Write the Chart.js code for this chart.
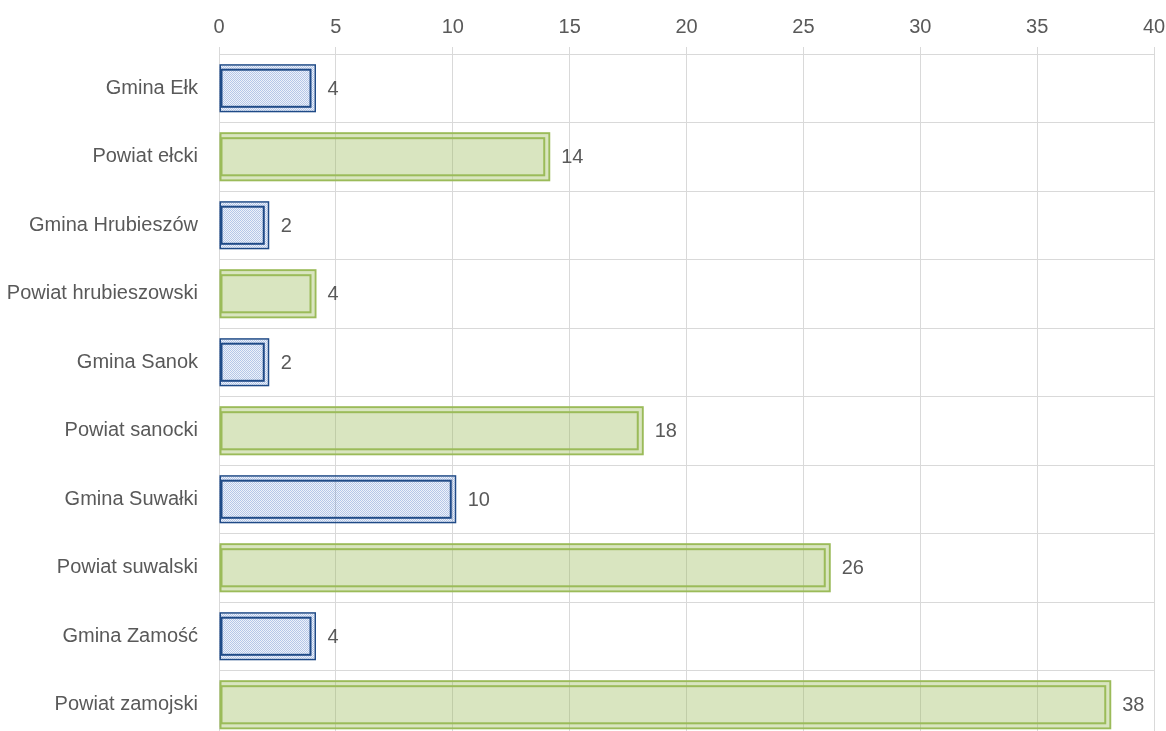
<!DOCTYPE html>
<html lang="pl">
<head>
<meta charset="utf-8">
<title>Gminy i powiaty</title>
<script src="https://cdn.jsdelivr.net/npm/chart.js@4/dist/chart.umd.min.js"></script>
<style>
    html, body { margin: 0; padding: 0; background: #fff; overflow: hidden; }
    canvas { display: block; }
</style>
</head>
<body>
<canvas id="chart" width="1166" height="739"></canvas>
<script>
'use strict';

// --- data ---
const categories = [
    'Gmina Ełk', 'Powiat ełcki',
    'Gmina Hrubieszów', 'Powiat hrubieszowski',
    'Gmina Sanok', 'Powiat sanocki',
    'Gmina Suwałki', 'Powiat suwalski',
    'Gmina Zamość', 'Powiat zamojski',
];
const values    = [4, 14, 2, 4, 2, 18, 10, 26, 4, 38];
const unitKind  = ['gmina', 'powiat', 'gmina', 'powiat', 'gmina', 'powiat', 'gmina', 'powiat', 'gmina', 'powiat'];
const xTickMin  = 0;
const xTickMax  = 40;
const xTickStep = 5;

const FONT = '"Liberation Sans", Arial, sans-serif';
const FSIZE = 20;
const GRID = '#d9d9d9';
const TEXT = '#595959';

function dotPattern() {
    const p = document.createElement('canvas');
    p.width = 2; p.height = 2;
    const c = p.getContext('2d');
    c.fillStyle = 'rgba(90,130,205,0.45)';
    c.fillRect(0, 0, 1, 1);
    c.fillRect(1, 1, 1, 1);
    c.fillStyle = 'rgba(90,130,205,0.10)';
    c.fillRect(1, 0, 1, 1);
    c.fillRect(0, 1, 1, 1);
    return document.getElementById('chart').getContext('2d').createPattern(p, 'repeat');
}

const styles = {
    gmina:  { fill: dotPattern(), line: '#1f4a87', outer: 1.5, inner: 2 },
    powiat: { fill: 'rgba(155,187,89,0.38)', line: '#9bbb59', outer: 2, inner: 2 },
};

// Excel-like "double" compound outline + value labels
const doubleBorder = {
    id: 'doubleBorder',
    afterDatasetsDraw(chart) {
        const ctx  = chart.ctx;
        const meta = chart.getDatasetMeta(0);
        meta.data.forEach((bar, i) => {
            const { x, y, base, height } = bar.getProps(['x', 'y', 'base', 'height'], true);
            const st  = styles[unitKind[i]];
            const top = y - height / 2;

            ctx.save();
            ctx.fillStyle = st.fill;
            ctx.fillRect(base, top - 2, x + 2 - base, height + 4);

            ctx.strokeStyle = st.line;
            ctx.lineWidth = st.outer;
            const o = 2 + st.outer / 2;
            ctx.strokeRect(base + st.outer / 2, top - o, x + o - base - st.outer / 2, height + 2 * o);

            ctx.lineWidth = st.inner;
            ctx.strokeRect(base + 2, top + 2, x - 4 - base, height - 4);

            ctx.fillStyle = TEXT;
            ctx.font = FSIZE + 'px ' + FONT;
            ctx.textAlign = 'left';
            ctx.textBaseline = 'middle';
            ctx.fillText(String(values[i]), x + 15, y + 1);
            ctx.restore();
        });
    },
};

new Chart(document.getElementById('chart'), {
    type: 'bar',
    data: {
        labels: categories,
        datasets: [{
            data: values,
            backgroundColor: 'rgba(0,0,0,0)',
            borderWidth: 0,
            barPercentage: 0.6,
            categoryPercentage: 1,
        }],
    },
    options: {
        indexAxis: 'y',
        responsive: false,
        animation: false,
        layout: { padding: { top: 7, left: 0, right: 0, bottom: 0 } },
        plugins: {
            legend:  { display: false },
            tooltip: { enabled: false },
        },
        scales: {
            x: {
                position: 'top',
                min: xTickMin,
                max: xTickMax,
                afterFit(scale) { scale.paddingRight = 12; },
                ticks: {
                    stepSize: xTickStep,
                    color: TEXT,
                    padding: 8,
                    font: { family: FONT, size: FSIZE },
                },
                grid:   { color: GRID, lineWidth: 1, tickLength: 7, drawTicks: true },
                border: { display: true, color: GRID },
            },
            y: {
                afterFit(scale) {
                    scale.width = 219;
                    scale.paddingTop = 0;
                    scale.paddingBottom = 0;
                },
                ticks: {
                    color: TEXT,
                    padding: 21,
                    font: { family: FONT, size: FSIZE },
                },
                grid:   { color: GRID, lineWidth: 1, drawTicks: false, offset: true },
                border: { display: true, color: GRID },
            },
        },
    },
    plugins: [doubleBorder],
});
</script>
</body>
</html>
